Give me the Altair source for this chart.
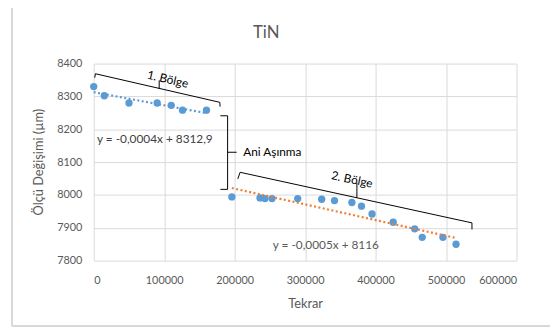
import altair as alt
import pandas as pd

# measured points
tekrar = [0, 15000, 50000, 90000, 110000, 126000, 160000,
          196000, 236000, 243000, 253000, 289500, 323500, 341700, 366400,
          380000, 395000, 425000, 455500, 466200, 495600, 514200]
olcu = [8330, 8302, 8280, 8280, 8273, 8258, 8258,
        7994, 7991, 7989, 7989, 7989, 7987, 7983, 7977,
        7966, 7942, 7917, 7897, 7871, 7871, 7850]

# trendlines (endpoints)
trend1_x = [0, 160000]
trend1_y = [8312.9, 8248.9]
trend2_x = [196000, 514000]
trend2_y = [8021, 7869]

# bracket segments
seg_x1 = [1400, 2400, 178900, 92900,
          204500, 207700, 536800, 373500,
          179700, 190000, 190000, 190000]
seg_y1 = [8357, 8369, 8282, 8324,
          8049, 8069, 7915, 7991,
          8241, 8241, 8017, 8130]
seg_x2 = [2400, 178900, 179300, 92900,
          207700, 536800, 536800, 373500,
          190000, 190000, 179700, 202800]
seg_y2 = [8369, 8282, 8269, 8349,
          8069, 7915, 7895, 8037,
          8241, 8017, 8017, 8130]

# annotations
rot_text = ["1. Bölge", "2. Bölge"]
rot_x = [105000, 366500]
rot_y = [8352, 8047]
rot_angle = [13, 12]

lab_text = ["y = -0,0004x + 8312,9", "y = -0,0005x + 8116", "Ani Aşınma"]
lab_x = [4600, 254000, 212200]
lab_y = [8169, 7847, 8130]
lab_color = ["#404040", "#595959", "#000000"]

x_ticks = [0, 100000, 200000, 300000, 400000, 500000, 600000]
y_ticks = [7800, 7900, 8000, 8100, 8200, 8300, 8400]

TITLE = "TiN"
Y_TITLE = "Ölçü Değişimi (µm)"
FONT = "Lato"
xs = alt.Scale(domain=[0, 600000], nice=False)
ys = alt.Scale(domain=[7800, 8400], nice=False, zero=False)

pts = pd.DataFrame({"x": tekrar, "y": olcu})
t1 = pd.DataFrame({"x": trend1_x, "y": trend1_y})
t2 = pd.DataFrame({"x": trend2_x, "y": trend2_y})
segs = pd.DataFrame({"x": seg_x1, "y": seg_y1, "x2": seg_x2, "y2": seg_y2})
rot = pd.DataFrame({"t": rot_text, "x": rot_x, "y": rot_y, "a": rot_angle})
labs = pd.DataFrame({"t": lab_text, "x": lab_x, "y": lab_y, "c": lab_color})

xaxis = alt.Axis(values=x_ticks, format="d", title="Tekrar", grid=True, ticks=False,
                 domain=False, labelPadding=14, titlePadding=13, labelOverlap=False)
yaxis = alt.Axis(values=y_ticks, format="d", title=None, grid=True,
                 ticks=False, domain=False, labelPadding=12, labelOverlap=False)

X = lambda: alt.X("x:Q", scale=xs, axis=xaxis)
Y = lambda: alt.Y("y:Q", scale=ys, axis=yaxis)

base_pts = alt.Chart(pts).mark_circle(size=55, color="#5B9BD5", opacity=1).encode(
    x=X(), y=Y())

line1 = alt.Chart(t1).mark_line(color="#5B9BD5", strokeWidth=2.2, strokeDash=[2, 2.5]).encode(
    x=X(), y=Y())
line2 = alt.Chart(t2).mark_line(color="#ED7D31", strokeWidth=2.2, strokeDash=[2, 2.5]).encode(
    x=X(), y=Y())

brackets = alt.Chart(segs).mark_rule(color="#000000", strokeWidth=1).encode(
    x=X(), y=Y(), x2="x2:Q", y2="y2:Q")

rot_marks = []
for i in range(len(rot_text)):
    rot_marks.append(
        alt.Chart(rot.iloc[[i]]).mark_text(
            font=FONT, fontSize=12, angle=rot_angle[i], color="#000000",
            align="center", baseline="middle").encode(
            x=X(), y=Y(), text="t:N"))

labels = alt.Chart(labs).mark_text(
    font=FONT, fontSize=12, align="left", baseline="middle").encode(
    x=X(), y=Y(), text="t:N",
    color=alt.Color("c:N", scale=None))

# chart title, y-axis title and chart-area frame (decoration)
title_mark = alt.Chart(pts.iloc[[0]]).mark_text(
    text=TITLE, font=FONT, fontSize=17, color="#595959",
    align="center", baseline="middle").encode(x=alt.value(175), y=alt.value(-31))
ytitle_mark = alt.Chart(pts.iloc[[0]]).mark_text(
    text=Y_TITLE, font=FONT, fontSize=13, color="#595959", angle=270,
    align="center", baseline="middle").encode(x=alt.value(-55), y=alt.value(100))
frame_left = alt.Chart(pts).mark_rule(color="#D9D9D9", strokeWidth=1).encode(
    x=alt.value(-83), y=alt.value(-57), y2=alt.value(266))
frame_top = alt.Chart(pts).mark_rule(color="#D9D9D9", strokeWidth=1).encode(
    x=alt.value(-83), x2=alt.value(470), y=alt.value(-57))
frame_bottom = alt.Chart(pts).mark_rule(color="#D9D9D9", strokeWidth=1).encode(
    x=alt.value(-83), x2=alt.value(470), y=alt.value(266))

chart = alt.layer(base_pts, frame_left, frame_top, frame_bottom, title_mark, ytitle_mark,
                  line1, line2, brackets, labels, *rot_marks).properties(
    width=429, height=200,
    autosize=alt.AutoSizeParams(type="none"),
    padding={"left": 87, "top": 54, "right": 34, "bottom": 69},
).configure_view(stroke=None).configure_axis(
    labelFont=FONT, labelFontSize=11, labelColor="#595959",
    titleFont=FONT, titleFontSize=13, titleColor="#595959", titleFontWeight="normal",
    gridColor="#D9D9D9", gridWidth=1,
)

chart.save("out.html", embed_options={"renderer": "svg", "actions": False})
